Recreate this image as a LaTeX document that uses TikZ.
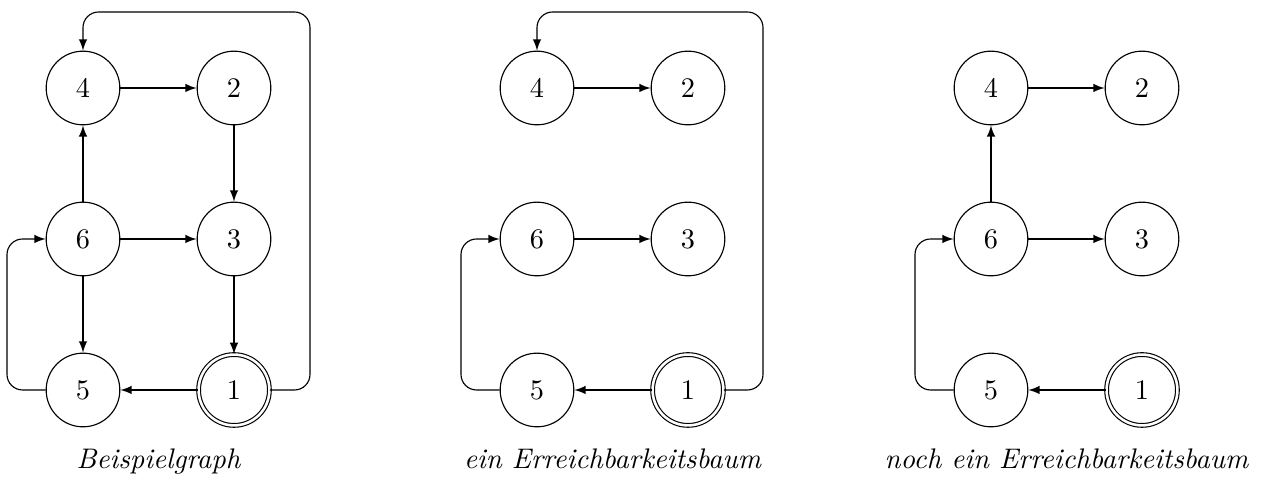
\documentclass[tikz,border=0pt]{standalone}
\usetikzlibrary{arrows}
\begin{document}
\begin{tikzpicture}[x=0.353pt,y=-0.353pt,
  st/.style={circle,draw,minimum size=26pt,inner sep=0pt,font=\normalsize},
  acc/.style={st,double,double distance=0.9pt,minimum size=25pt},
  ed/.style={->,>=latex},
  rd/.style={->,>=latex,rounded corners=5.5pt},
  captext/.style={anchor=base,font=\itshape}]
\useasboundingbox (0,0) rectangle (1267,479);
% Graph 1
\node[st] (a4) at (83,88) {4};
\node[st] (a2) at (234,88) {2};
\node[st] (a6) at (83,239) {6};
\node[st] (a3) at (234,239) {3};
\node[st] (a5) at (83,390) {5};
\node[acc] (a1) at (234,390) {1};
\draw[ed] (a4) -- (a2);
\draw[ed] (a2) -- (a3);
\draw[ed] (a6) -- (a4);
\draw[ed] (a6) -- (a3);
\draw[ed] (a6) -- (a5);
\draw[ed] (a3) -- (a1);
\draw[ed] (a1) -- (a5);
\draw[rd] (a5.west) -- (7,390) -- (7,239) -- (a6.west);
\draw[rd] (a1.east) -- (310,390) -- (310,12) -- (83,12) -- (a4.north);
\node[captext] (ca) at (158.5,469) {Beispielgraph};
% Graph 2
\node[st] (b4) at (537,88) {4};
\node[st] (b2) at (688,88) {2};
\node[st] (b6) at (537,239) {6};
\node[st] (b3) at (688,239) {3};
\node[st] (b5) at (537,390) {5};
\node[acc] (b1) at (688,390) {1};
\draw[ed] (b4) -- (b2);
\draw[ed] (b6) -- (b3);
\draw[ed] (b1) -- (b5);
\draw[rd] (b5.west) -- (461,390) -- (461,239) -- (b6.west);
\draw[rd] (b1.east) -- (763,390) -- (763,12) -- (537,12) -- (b4.north);
\node[captext] (cb) at (612.5,469) {ein Erreichbarkeitsbaum};
% Graph 3
\node[st] (c4) at (991,88) {4};
\node[st] (c2) at (1142,88) {2};
\node[st] (c6) at (991,239) {6};
\node[st] (c3) at (1142,239) {3};
\node[st] (c5) at (991,390) {5};
\node[acc] (c1) at (1142,390) {1};
\draw[ed] (c4) -- (c2);
\draw[ed] (c6) -- (c4);
\draw[ed] (c6) -- (c3);
\draw[ed] (c1) -- (c5);
\draw[rd] (c5.west) -- (915,390) -- (915,239) -- (c6.west);
\node[captext] (cc) at (1066.5,469) {noch ein Erreichbarkeitsbaum};
\end{tikzpicture}
\end{document}
